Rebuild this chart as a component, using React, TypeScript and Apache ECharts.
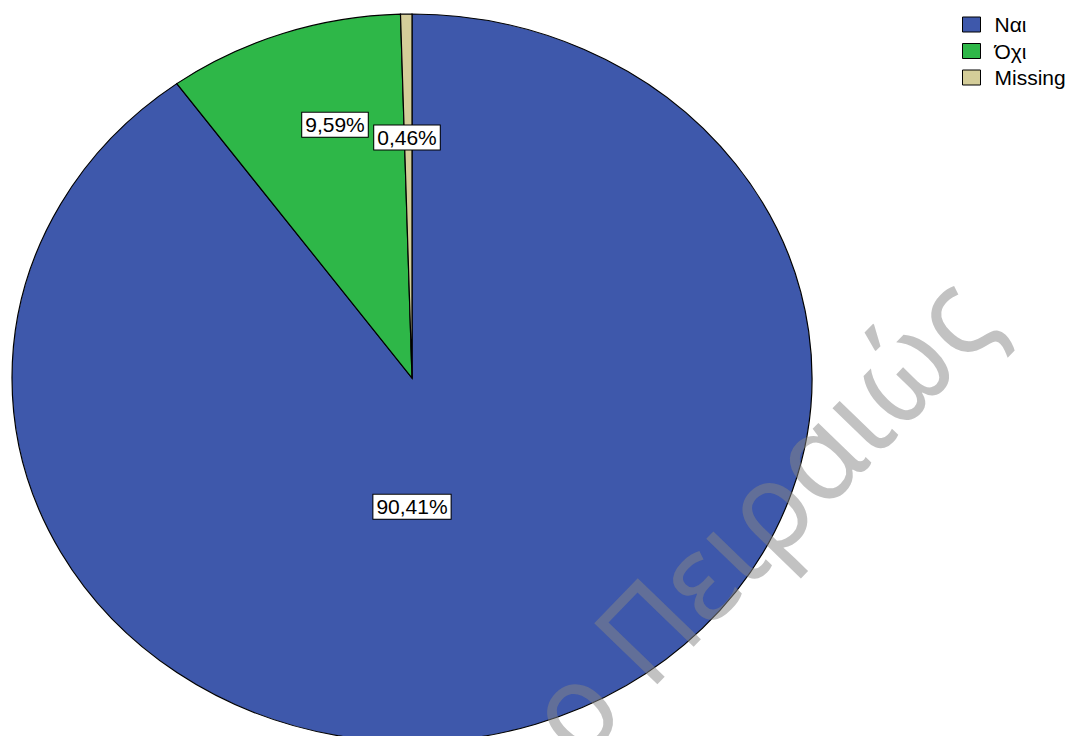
import { useEffect, useRef } from 'react';
import * as echarts from 'echarts';

const CATEGORIES = ['Ναι', 'Όχι', 'Missing'];
const VALUES = [90.41, 9.59, 0.46];
const LABELS = ['90,41%', '9,59%', '0,46%'];

const COLORS = ['#3E58AB', '#2EB748', '#D4CD99'];
// label anchor positions as fractions of the radii (style, not data)
const LABEL_ANCHORS = [
  [0.0, 0.354],
  [-0.1925, -0.696],
  [-0.0125, -0.661],
];
const CX = 412;
const CY = 378;
const RX = 400;
const RY = 364;

export default function App() {
  const ref = useRef<HTMLDivElement>(null);
  useEffect(() => {
    const chart = echarts.init(ref.current!, null, { renderer: 'svg' });
    const total = VALUES.reduce((a, b) => a + b, 0);
    const series = CATEGORIES.map((name, i) => ({
      type: 'custom',
      name,
      coordinateSystem: 'none',
      data: [VALUES[i]],
      itemStyle: { color: COLORS[i] },
      renderItem: (_params: any, api: any) => {
        const v = api.value(0);
        const before = VALUES.slice(0, i).reduce((a, b) => a + b, 0);
        const start = -Math.PI / 2 + (before / total) * Math.PI * 2;
        const end = start + (v / total) * Math.PI * 2;
        return {
          type: 'group',
          children: [
            {
              type: 'group',
              x: CX,
              y: CY,
              scaleY: RY / RX,
              children: [
                {
                  type: 'sector',
                  shape: { cx: 0, cy: 0, r: RX, r0: 0, startAngle: start, endAngle: end, clockwise: true },
                  style: { fill: COLORS[i], stroke: '#000', lineWidth: 1.2, strokeNoScale: true },
                },
              ],
            },
            {
              type: 'text',
              x: CX + LABEL_ANCHORS[i][0] * RX,
              y: CY + LABEL_ANCHORS[i][1] * RY,
              z2: 10,
              style: {
                text: LABELS[i],
                fontSize: 21,
                fontFamily: 'Liberation Sans, Arial, sans-serif',
                fill: '#000',
                align: 'center',
                verticalAlign: 'middle',
                backgroundColor: '#fff',
                borderColor: '#000',
                borderWidth: 1,
                padding: [2, 3, 1, 3],
              },
            },
          ],
        };
      },
    }));
    chart.setOption({
      animation: false,
      backgroundColor: '#fff',
      legend: {
        orient: 'vertical',
        left: 957,
        top: 9,
        data: CATEGORIES,
        icon: 'rect',
        itemWidth: 18,
        itemHeight: 15,
        itemGap: 5.5,
        itemStyle: { borderColor: '#000', borderWidth: 1 },
        textStyle: {
          fontSize: 21,
          fontFamily: 'Liberation Sans, Arial, sans-serif',
          color: '#000',
          padding: [0, 0, 0, 9],
        },
      },
      graphic: [
        {
          type: 'text',
          x: 545,
          y: 732,
          rotation: (46 * Math.PI) / 180,
          scaleX: 0.95,
          z: 100,
          silent: true,
          style: {
            text: 'ο Πειραιώς',
            fontSize: 123,
            fontFamily: 'Noto Sans, Open Sans, sans-serif',
            fill: 'rgba(133,133,133,0.5)',
            align: 'left',
            verticalAlign: 'middle',
          },
        },
      ],
      series,
    });
    return () => chart.dispose();
  }, []);
  return (
    <div
      ref={ref}
      style={{ position: 'fixed', left: 0, top: 0, width: 1070, height: 736 }}
    />
  );
}
